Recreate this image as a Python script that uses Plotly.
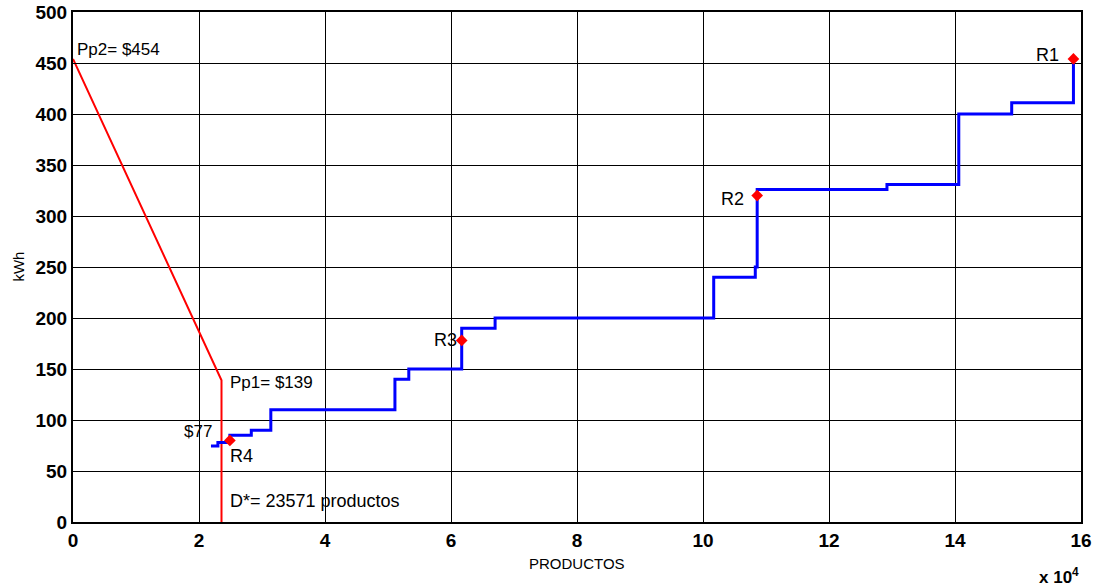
import plotly.graph_objects as go

# Blue step curve (x in units of 10^4 productos, y in kWh)
step_x = [2.19, 2.30, 2.49, 2.83, 3.14, 5.11, 5.33, 6.17, 6.70, 10.17, 10.83, 10.86, 12.92, 14.06, 14.90, 15.88]
step_y = [74.5, 78, 85, 90, 110, 140, 150, 190, 200, 240, 250, 326, 331, 400, 411, 454]

# Red demand line
red_x = [0, 2.3571, 2.3571]
red_y = [454, 139, 0]

# Marked points
pt_names = ["R1", "R2", "R3", "R4"]
pt_x = [15.88, 10.86, 6.17, 2.49]
pt_y = [454, 320, 178, 80]

x_ticks = [0, 2, 4, 6, 8, 10, 12, 14, 16]
y_ticks = [0, 50, 100, 150, 200, 250, 300, 350, 400, 450, 500]

FONT = "Liberation Sans, Arial"

fig = go.Figure()
fig.add_trace(go.Scatter(x=red_x, y=red_y, mode="lines",
                         line=dict(color="#ff0000", width=2), showlegend=False))
fig.add_trace(go.Scatter(x=step_x, y=step_y, mode="lines", line_shape="hv",
                         line=dict(color="#0000ff", width=3), showlegend=False))
fig.add_trace(go.Scatter(x=pt_x, y=pt_y, mode="markers",
                         marker=dict(symbol="diamond", size=9, color="#ff0000"),
                         showlegend=False))

ann = [
    (0.03, 463, "Pp2= $454", "left", 17),
    (2.46, 137, "Pp1= $139", "left", 17),
    (2.24, 89, "$77", "right", 17),
    (2.46, 65, "R4", "left", 18),
    (2.46, 21, "D*= 23571 productos", "left", 18),
    (6.12, 178, "R3", "right", 18),
    (10.69, 317, "R2", "right", 18),
    (15.69, 458, "R1", "right", 18),
]
for x, y, t, al, sz in ann:
    fig.add_annotation(x=x, y=y, text=t, showarrow=False, xanchor=al,
                       yanchor="middle", font=dict(family=FONT, size=sz, color="black"))

# axis titles and exponent as paper annotations
fig.add_annotation(x=0.5, y=-0.081, xref="paper", yref="paper", text="PRODUCTOS",
                   showarrow=False, xanchor="center", yanchor="middle",
                   font=dict(family=FONT, size=15, color="black"))
fig.add_annotation(x=-0.055, y=0.5, xref="paper", yref="paper", text="kWh",
                   showarrow=False, xanchor="center", yanchor="middle", textangle=-90,
                   font=dict(family=FONT, size=15, color="black"))
fig.add_annotation(x=1.0, y=-0.105, xref="paper", yref="paper",
                   text="<b>x 10<sup>4</sup></b>", showarrow=False,
                   xanchor="right", yanchor="middle",
                   font=dict(family=FONT, size=17, color="black"))

axis_common = dict(showgrid=True, gridcolor="black", gridwidth=1,
                   showline=True, linecolor="black", linewidth=2, mirror=True,
                   ticks="inside", ticklen=6, tickcolor="black", zeroline=False,
                   automargin=False,
                   tickfont=dict(family=FONT, size=19, color="black", weight="bold"))

fig.update_layout(
    width=1112, height=587,
    margin=dict(l=73, r=31, t=12, b=65),
    paper_bgcolor="white", plot_bgcolor="white",
    xaxis=dict(range=[0, 16], tickvals=x_ticks, **axis_common),
    yaxis=dict(range=[0, 500], tickvals=y_ticks, **axis_common),
)

fig.write_html("out.html", config={"displayModeBar": False},
               post_script="document.body.style.margin='0px';")
